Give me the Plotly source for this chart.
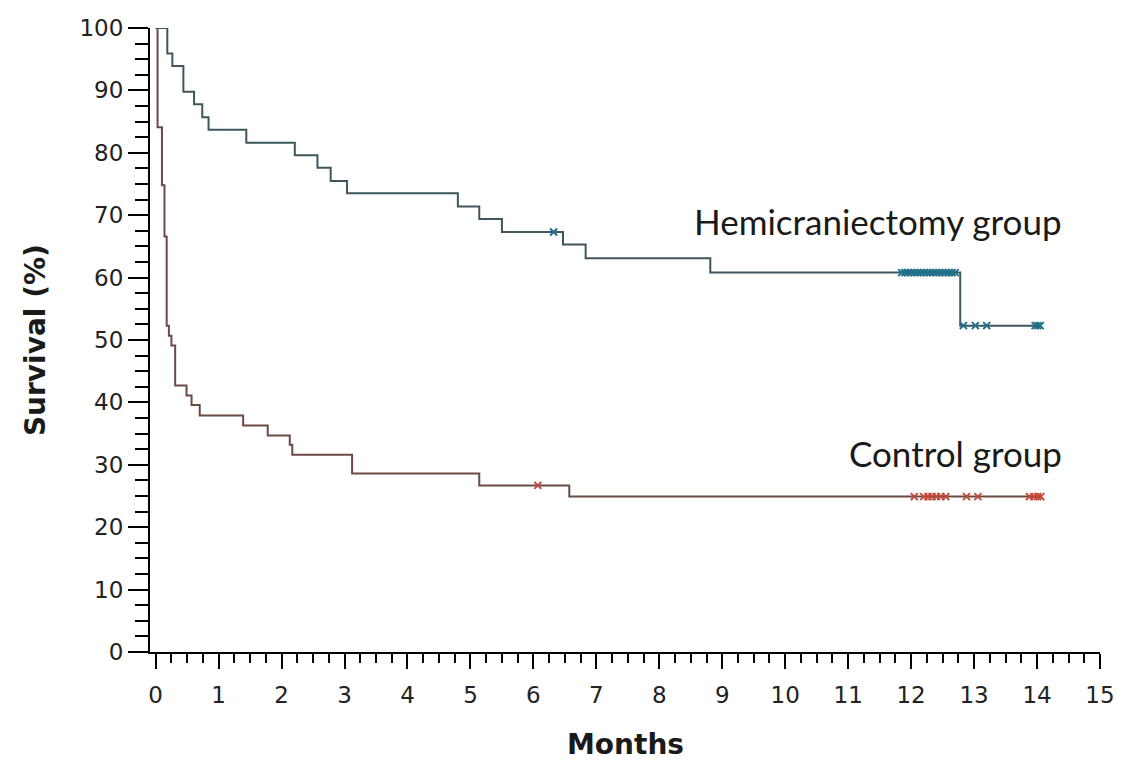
import plotly.graph_objects as go

# Kaplan-Meier step data (months, survival %)
hemi_times = [0, 0.185, 0.265, 0.44, 0.61, 0.74, 0.84, 1.44, 2.21, 2.57, 2.78, 3.04,
              4.80, 5.14, 5.50, 6.47, 6.83, 8.81, 12.78, 14.05]
hemi_surv = [100, 95.9, 93.9, 89.8, 87.8, 85.7, 83.7, 81.6, 79.6, 77.6, 75.5, 73.5,
             71.4, 69.4, 67.3, 65.3, 63.1, 60.8, 52.3, 52.3]

hemi_cens_times = [6.32, 11.85, 11.9, 11.95, 12.0, 12.05, 12.1, 12.15, 12.2, 12.25, 12.3,
                   12.35, 12.4, 12.45, 12.5, 12.55, 12.6, 12.65, 12.7,
                   12.83, 13.02, 13.2, 13.97, 14.01, 14.05]
hemi_cens_surv = [67.3] + [60.8] * 18 + [52.3] * 6

ctrl_times = [0, 0.03, 0.10, 0.14, 0.175, 0.21, 0.25, 0.31, 0.49, 0.57, 0.70, 1.39,
              1.78, 2.13, 2.17, 3.12, 5.14, 6.57, 14.08]
ctrl_surv = [100, 84.1, 74.8, 66.6, 52.3, 50.7, 49.1, 42.7, 41.1, 39.6, 37.9, 36.3,
             34.7, 33.2, 31.6, 28.6, 26.7, 24.9, 24.9]

ctrl_cens_times = [6.07, 12.05, 12.2, 12.27, 12.33, 12.4, 12.47, 12.55,
                   12.88, 13.06, 13.88, 13.95, 14.01, 14.06]
ctrl_cens_surv = [26.7] + [24.9] * 13

x_ticks = list(range(0, 16))
y_ticks = list(range(0, 101, 10))

HEMI_LINE = "#3e575c"
HEMI_MARK = "#23708a"
CTRL_LINE = "#6b4a45"
CTRL_MARK = "#c24a3b"

fig = go.Figure()
fig.add_trace(go.Scatter(x=hemi_times, y=hemi_surv, mode="lines", line_shape="hv",
                         line=dict(color=HEMI_LINE, width=2), cliponaxis=False,
                         showlegend=False, hoverinfo="skip"))
fig.add_trace(go.Scatter(x=ctrl_times, y=ctrl_surv, mode="lines", line_shape="hv",
                         line=dict(color=CTRL_LINE, width=2), cliponaxis=False,
                         showlegend=False, hoverinfo="skip"))
fig.add_trace(go.Scatter(x=hemi_cens_times, y=hemi_cens_surv, mode="markers",
                         marker=dict(symbol="x-thin", size=7,
                                     line=dict(color=HEMI_MARK, width=2)),
                         cliponaxis=False, showlegend=False, hoverinfo="skip"))
fig.add_trace(go.Scatter(x=ctrl_cens_times, y=ctrl_cens_surv, mode="markers",
                         marker=dict(symbol="x-thin", size=7,
                                     line=dict(color=CTRL_MARK, width=2)),
                         cliponaxis=False, showlegend=False, hoverinfo="skip"))

tick_font = dict(family="DejaVu Sans", size=23, color="#222222")
fig.update_xaxes(range=[-0.09, 15], tickvals=x_ticks, ticktext=[str(v) for v in x_ticks],
                 showgrid=False, zeroline=False, showline=True, linecolor="black",
                 linewidth=2, ticks="outside", ticklen=15, tickwidth=2, tickcolor="black",
                 ticklabelstandoff=6, automargin=False,
                 minor=dict(dtick=0.25, tick0=0, ticks="outside", ticklen=9, tickwidth=2,
                            tickcolor="black", showgrid=False),
                 tickfont=tick_font)
fig.update_yaxes(range=[0, 100], tickvals=y_ticks, ticktext=[str(v) for v in y_ticks],
                 showgrid=False, zeroline=False, showline=True, linecolor="black",
                 linewidth=2, ticks="outside", ticklen=20, tickwidth=2, tickcolor="black",
                 automargin=False,
                 minor=dict(dtick=2.5, tick0=0, ticks="outside", ticklen=13, tickwidth=2,
                            tickcolor="black", showgrid=False),
                 tickfont=tick_font)

label_font = dict(family="Lato", size=35, color="#1a1a1a")
fig.add_annotation(x=14.43, y=69.0, xref="x", yref="y", text="Hemicraniectomy group",
                   showarrow=False, xanchor="right", yanchor="middle", font=label_font)
fig.add_annotation(x=14.43, y=31.9, xref="x", yref="y", text="Control group",
                   showarrow=False, xanchor="right", yanchor="middle", font=label_font)

title_font = dict(family="DejaVu Sans", size=28, color="#1a1a1a", weight="bold")
fig.add_annotation(x=-0.121, y=0.5, xref="paper", yref="paper", text="Survival (%)",
                   textangle=-90, showarrow=False, xanchor="center", yanchor="middle",
                   font=title_font)
fig.add_annotation(x=0.5, y=-0.149, xref="paper", yref="paper", text="Months",
                   showarrow=False, xanchor="center", yanchor="middle", font=title_font)

# The page body adds an 8px offset, so the figure is sized/margined to compensate.
fig.update_layout(width=1116, height=753, plot_bgcolor="white", paper_bgcolor="white",
                  margin=dict(l=142, r=24, t=20, b=109), showlegend=False)

fig.write_html("out.html")
